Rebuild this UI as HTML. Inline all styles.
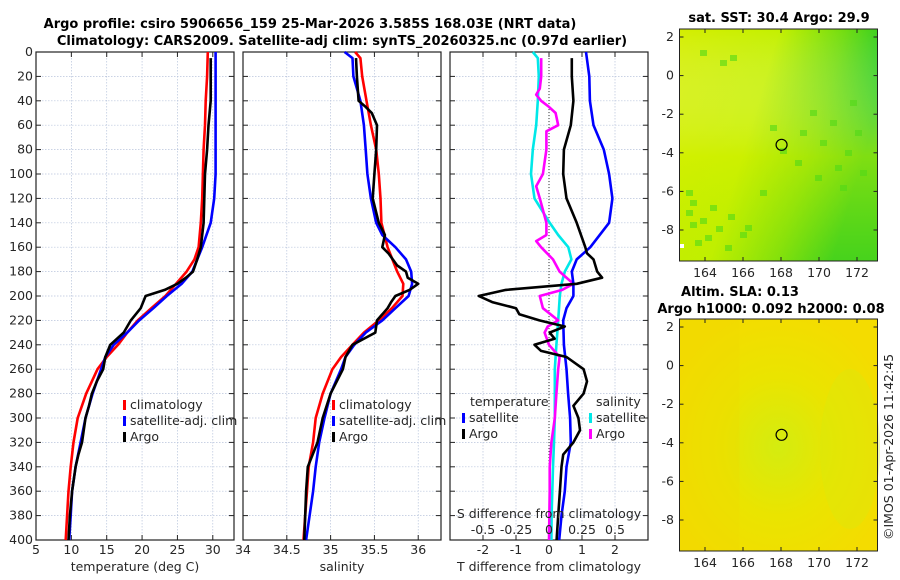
<!DOCTYPE html>
<html><head><meta charset="utf-8">
<style>
html,body{margin:0;padding:0;background:#fff;}
svg{display:block;font-family:"DejaVu Sans","Liberation Sans",sans-serif;}
.t{font-size:12.5px;fill:#262626;}
.b{font-size:13px;font-weight:bold;fill:#000;}
</style></head>
<body>
<svg id="fig" width="900" height="580" viewBox="0 0 900 580" xmlns="http://www.w3.org/2000/svg">
<defs>
<linearGradient id="sstg" x1="0" y1="0" x2="1" y2="0.35">
<stop offset="0" stop-color="#d4ee00"/><stop offset="0.45" stop-color="#c4f000"/><stop offset="0.75" stop-color="#70dc10"/><stop offset="1" stop-color="#18c828"/>
</linearGradient>
<linearGradient id="sstv" x1="0" y1="0" x2="0" y2="1">
<stop offset="0" stop-color="#fff" stop-opacity="0"/><stop offset="0.55" stop-color="#d4f000" stop-opacity="0.55"/><stop offset="1" stop-color="#b4ec00" stop-opacity="0.3"/>
</linearGradient>
<radialGradient id="slag" cx="0.5" cy="0.55" r="0.6">
<stop offset="0" stop-color="#d4ec10"/><stop offset="0.5" stop-color="#eae400"/><stop offset="1" stop-color="#f4dc00"/>
</radialGradient>
</defs>
<g id="titles">
<text class="b" x="310" y="28" text-anchor="middle">Argo profile: csiro 5906656_159 25-Mar-2026 3.585S 168.03E (NRT data)</text>
<text class="b" x="342" y="45" text-anchor="middle">Climatology: CARS2009. Satellite-adj clim: synTS_20260325.nc (0.97d earlier)</text>
</g>
<g id="p1"></g>
<g id="p2"></g>
<g id="p3"></g>
<g id="m1"></g>
<g id="m2"></g>
<text class="t" transform="translate(893,540) rotate(-90)">©IMOS 01-Apr-2026 11:42:45</text>
</svg>
<script>
// ---- data ----
const tempDepthClim = [0,20,40,60,80,100,120,140,160,170,180,190,200,210,220,230,240,250,260,280,300,320,340,360,380,400];
const tempClim = [29.3,29.2,29.0,28.9,28.7,28.6,28.5,28.3,28.0,27.4,26.3,24.8,23.3,21.3,19.4,17.9,16.6,15.0,13.7,12.1,10.9,10.3,9.9,9.6,9.4,9.2];
const tempDepthSat = [0,40,100,120,140,160,180,190,200,210,220,230,240,250,260,280,300,320,340,360,380,400];
const tempSat = [30.4,30.4,30.4,30.2,29.7,28.5,27.1,25.6,23.5,21.6,19.6,17.9,16.0,14.8,14.2,13.0,12.0,11.3,10.6,10.1,9.9,9.7];
const tempDepthArgo = [5,40,60,80,100,140,160,170,180,185,190,195,200,210,220,230,240,250,260,270,280,290,300,320,330,340,360,380,400];
const tempArgo = [29.7,29.7,29.4,29.2,28.9,28.7,28.3,27.8,27.2,26.2,25.0,23.2,20.5,19.8,18.4,17.4,15.5,14.8,14.5,13.6,12.9,12.5,12.0,11.5,11.0,10.6,10.1,9.8,9.6];

const salDepthClim = [0,5,20,40,60,80,100,120,140,160,180,190,200,210,220,230,240,250,260,280,300,320,340,360,380,400];
const salClim = [35.28,35.34,35.36,35.41,35.46,35.52,35.55,35.57,35.58,35.65,35.76,35.83,35.82,35.70,35.55,35.38,35.25,35.12,35.02,34.91,34.83,34.80,34.75,34.73,34.71,34.69];
const salDepthSat = [0,5,20,40,60,80,100,120,140,150,160,170,180,190,200,210,220,230,240,250,260,280,300,320,340,360,380,400];
const salSat = [35.16,35.25,35.26,35.34,35.38,35.40,35.42,35.46,35.52,35.59,35.74,35.86,35.92,35.93,35.89,35.74,35.59,35.40,35.27,35.17,35.12,35.00,34.93,34.87,34.83,34.80,34.76,34.72];
const salDepthArgo = [5,20,40,45,50,60,80,100,120,140,150,160,165,175,180,185,190,195,200,205,210,220,230,240,250,260,280,300,320,340,360,380,400];
const salArgo = [35.29,35.30,35.32,35.40,35.47,35.53,35.52,35.50,35.48,35.55,35.62,35.59,35.66,35.76,35.86,35.88,36.00,35.90,35.74,35.69,35.65,35.53,35.51,35.25,35.17,35.14,35.00,34.91,34.85,34.74,34.72,34.71,34.70];

const dTDepthSat = [0,20,40,60,80,100,120,140,160,170,180,190,200,210,220,240,260,280,300,320,340,360,380,400];
const dTSat = [1.12,1.22,1.24,1.35,1.66,1.82,1.92,1.82,1.25,0.84,0.69,0.74,0.74,0.53,0.43,0.45,0.53,0.58,0.64,0.66,0.53,0.48,0.38,0.31];
const dTDepthArgo = [5,20,40,60,80,100,120,140,160,165,170,180,185,190,195,200,205,210,215,220,225,230,235,240,245,250,260,270,280,290,300,310,320,330,340,360,380,400];
const dTArgo = [0.69,0.69,0.74,0.66,0.45,0.43,0.53,0.84,1.10,1.15,1.35,1.46,1.61,0.84,-1.31,-2.13,-1.72,-1.00,-0.90,-0.29,0.48,0.02,0.17,-0.44,-0.24,0.53,1.05,1.15,1.05,0.74,0.89,0.94,0.74,0.43,0.38,0.33,0.28,0.23];
const dSDepthSat = [0,5,20,40,60,80,100,120,140,150,160,170,180,190,200,220,240,260,280,300,320,340,360,380,400];
const dSSat = [-0.123,-0.085,-0.077,-0.085,-0.097,-0.123,-0.136,-0.110,0.005,0.070,0.146,0.170,0.120,0.095,0.082,0.070,0.056,0.044,0.044,0.044,0.038,0.030,0.025,0.020,0.018];
const dSDepthArgo = [5,20,30,35,40,45,50,60,65,80,100,110,120,140,150,155,160,170,180,190,195,200,210,220,225,230,240,250,260,280,300,320,340,360,400];
const dSArgo = [-0.059,-0.059,-0.070,-0.097,-0.060,0.000,0.050,0.070,-0.020,-0.020,-0.046,-0.097,-0.070,-0.020,-0.020,-0.097,-0.060,0.030,0.080,0.185,0.100,-0.070,-0.046,0.070,-0.010,-0.033,0.000,0.080,0.070,0.056,0.044,0.018,0.005,0.005,0.000];

const depthTicks = [0,20,40,60,80,100,120,140,160,180,200,220,240,260,280,300,320,340,360,380,400];
const tempTicks = [5,10,15,20,25,30];
const salTicks = [34,34.5,35,35.5,36];
const salTickLabels = ["34","34.5","35","35.5","36"];
const dTTicks = [-2,-1,0,1,2];
const dSTicks = [-0.5,-0.25,0,0.25,0.5];
const dSTickLabels = ["-0.5","-0.25","0","0.25","0.5"];
const mapLatTicks = [2,0,-2,-4,-6,-8];
const mapLonTicks = [164,166,168,170,172];
const argoLon = [168.03];
const argoLat = [-3.585];

// ---- helpers ----
const NS = "http://www.w3.org/2000/svg";
function mk(tag, attrs, parent){const e=document.createElementNS(NS,tag);for(const k in attrs)e.setAttribute(k,attrs[k]);parent.appendChild(e);return e;}
const PT = 52, PB = 540;
const yD = d => PT + d*(PB-PT)/400;

function panel(g, x0, x1, xmin, xmax, xticks, xlabels, xtitle, leftLabels){
  const sx = v => x0 + (v-xmin)*(x1-x0)/(xmax-xmin);
  depthTicks.forEach(d=>{
    const y=yD(d);
    const gl=mk('line',{x1:x0,x2:x1,y1:y,y2:y,stroke:'#b8c4dc','stroke-width':0.7,'stroke-dasharray':'1.5,1.5'},g);
    
    
    mk('line',{x1:x0,x2:x0+5,y1:y,y2:y,stroke:'#222','stroke-width':1},g);
    mk('line',{x1:x1-5,x2:x1,y1:y,y2:y,stroke:'#222','stroke-width':1},g);
    if(leftLabels){const t=mk('text',{x:x0-3,y:y+4,'text-anchor':'end',class:'t'},g);t.textContent=d;
      
      }
  });
  xticks.forEach((v,i)=>{
    const x=sx(v);
    mk('line',{x1:x,x2:x,y1:PT,y2:PB,stroke:'#b8c4dc','stroke-width':0.7,'stroke-dasharray':'1.5,1.5'},g);
    mk('line',{x1:x,x2:x,y1:PB-5,y2:PB,stroke:'#222','stroke-width':1},g);
    mk('line',{x1:x,x2:x,y1:PT,y2:PT+5,stroke:'#222','stroke-width':1},g);
    const t=mk('text',{x:x,y:PB+14,'text-anchor':'middle',class:'t'},g);t.textContent=xlabels[i];
    
    
  });
  const f=mk('rect',{x:x0,y:PT,width:x1-x0,height:PB-PT,fill:'none',stroke:'#222','stroke-width':1.2},g);
  
  
  const tt=mk('text',{x:(x0+x1)/2,y:PB+31,'text-anchor':'middle',class:'t'},g);tt.textContent=xtitle;
  
  
  return sx;
}
function line(g, sx, depths, vals, color, name){
  const pts=depths.map((d,i)=>sx(vals[i]).toFixed(1)+','+yD(d).toFixed(1)).join(' ');
  const p=mk('polyline',{points:pts,fill:'none',stroke:color,'stroke-width':2.6,'stroke-linejoin':'round'},g);
  
  
}
function legend(g, x, y, color, label, name){
  mk('rect',{x:x,y:y-9,width:3,height:10,fill:color},g);
  const t=mk('text',{x:x+7,y:y,class:'t'},g);t.textContent=label;
  
  
}

// ---- panel 1 ----
const g1=document.getElementById('p1');
const sx1=panel(g1,36,234,5,33,tempTicks,tempTicks.map(String),'temperature (deg C)',true);
line(g1,sx1,tempDepthClim,tempClim,'#ff0000','temp-climatology-line');
line(g1,sx1,tempDepthSat,tempSat,'#0000ff','temp-satellite-line');
line(g1,sx1,tempDepthArgo,tempArgo,'#000000','temp-argo-line');
legend(g1,123,409,'#ff0000','climatology','legend-climatology');
legend(g1,123,425,'#0000ff','satellite-adj. clim','legend-satellite');
legend(g1,123,441,'#000','Argo','legend-argo');

// ---- panel 2 ----
const g2=document.getElementById('p2');
const sx2=panel(g2,243,441,34,36.26,salTicks,salTickLabels,'salinity',false);
line(g2,sx2,salDepthClim,salClim,'#ff0000','sal-climatology-line');
line(g2,sx2,salDepthSat,salSat,'#0000ff','sal-satellite-line');
line(g2,sx2,salDepthArgo,salArgo,'#000000','sal-argo-line');
legend(g2,332,409,'#ff0000','climatology','legend-climatology');
legend(g2,332,425,'#0000ff','satellite-adj. clim','legend-satellite');
legend(g2,332,441,'#000','Argo','legend-argo');

// ---- panel 3 ----
const g3=document.getElementById('p3');
const sx3=panel(g3,450,648,-3,3,dTTicks,dTTicks.map(String),'T difference from climatology',false);
const sxS = v => sx3(v*4);
mk('line',{x1:sx3(0),x2:sx3(0),y1:PT,y2:PB,stroke:'#333','stroke-width':1,'stroke-dasharray':'1,2'},g3);
line(g3,sxS,dSDepthSat,dSSat,'#00e8e8','sal-diff-satellite-line');
line(g3,sxS,dSDepthArgo,dSArgo,'#ff00ff','sal-diff-argo-line');
line(g3,sx3,dTDepthSat,dTSat,'#0000ff','temp-diff-satellite-line');
line(g3,sx3,dTDepthArgo,dTArgo,'#000000','temp-diff-argo-line');
(function(){
  let t=mk('text',{x:470,y:406,class:'t'},g3);t.textContent='temperature';
  
  
  t=mk('text',{x:596,y:406,class:'t'},g3);t.textContent='salinity';
  
  
})();
legend(g3,462,422,'#0000ff','satellite','legend-temp-satellite');
legend(g3,462,438,'#000','Argo','legend-temp-argo');
legend(g3,589,422,'#00e8e8','satellite','legend-sal-satellite');
legend(g3,589,438,'#ff00ff','Argo','legend-sal-argo');
(function(){
  const t=mk('text',{x:549,y:518,'text-anchor':'middle',class:'t'},g3);t.textContent='S difference from climatology';
  
  
  dSTicks.forEach((v,i)=>{
    const l=mk('text',{x:sxS(v),y:534,'text-anchor':'middle',class:'t'},g3);l.textContent=dSTickLabels[i];
    
    
  });
})();

// ---- maps ----
const MX0=679.5, MX1=877.5;
const lonX = lon => 705 + (lon-164)*19.0;
function map(g, top, fillId, titleLines, isSST){
  const latY = lat => top + 8 + (2-lat)*19.3;
  const bot = top+232;
  const bg=mk('rect',{x:MX0,y:top,width:MX1-MX0,height:bot-top,fill:'url(#'+fillId+')'},g);
  
  
  if(isSST){
    mk('rect',{x:MX0,y:top,width:MX1-MX0,height:bot-top,fill:'url(#sstv)'},g);
    const cells=[[686,210],[690,222],[700,218],[710,205],[695,240],[705,235],[716,226],[686,190],[728,214],[740,232],[760,190],[800,130],[780,148],[820,140],[830,120],[845,150],[860,170],[850,100],[855,130],[770,125],[810,110],[835,165],[720,60],[730,55],[700,50],[795,160],[815,175],[840,185],[690,200],[725,245],[745,225]];
    cells.forEach(c=>{mk('rect',{x:c[0],y:c[1],width:7,height:6,fill:'#50d818',opacity:0.6},g);});
    mk('rect',{x:680,y:244,width:4,height:4,fill:'#fff'},g);
  } else {
    mk('rect',{x:MX0,y:top,width:60,height:bot-top,fill:'#f0d800',opacity:0.3},g);
    mk('ellipse',{cx:850,cy:top+130,rx:30,ry:80,fill:'#d4ec10',opacity:0.3},g);
  }
  mk('circle',{cx:lonX(argoLon[0]),cy:latY(argoLat[0]),r:5.5,fill:'none',stroke:'#000','stroke-width':1.2},g);
  mk('rect',{x:MX0,y:top,width:MX1-MX0,height:bot-top,fill:'none',stroke:'#222','stroke-width':1},g);
  mapLatTicks.forEach(v=>{
    const y=latY(v);
    mk('line',{x1:MX0,x2:MX0+4,y1:y,y2:y,stroke:'#222'},g);
    mk('line',{x1:MX1-4,x2:MX1,y1:y,y2:y,stroke:'#222'},g);
    const t=mk('text',{x:674,y:y+4,'text-anchor':'end',class:'t'},g);t.textContent=v;
    
    
  });
  mapLonTicks.forEach(v=>{
    const x=lonX(v);
    mk('line',{x1:x,x2:x,y1:bot-4,y2:bot,stroke:'#222'},g);
    mk('line',{x1:x,x2:x,y1:top,y2:top+4,stroke:'#222'},g);
    const t=mk('text',{x:x,y:bot+16,'text-anchor':'middle',class:'t'},g);t.textContent=v;
    
    
  });
  titleLines.forEach((s,i)=>{
    const t=mk('text',{x:s[1],y:s[2],'text-anchor':'middle',class:'b'},g);t.textContent=s[0];
    
    
  });
}
map(document.getElementById('m1'),29,'sstg',[['sat. SST: 30.4  Argo: 29.9',779,22]],true);
map(document.getElementById('m2'),319,'slag',[['Altim. SLA: 0.13',740,296],['Argo h1000: 0.092 h2000: 0.08',771,313]],false);
</script>
</body></html>
